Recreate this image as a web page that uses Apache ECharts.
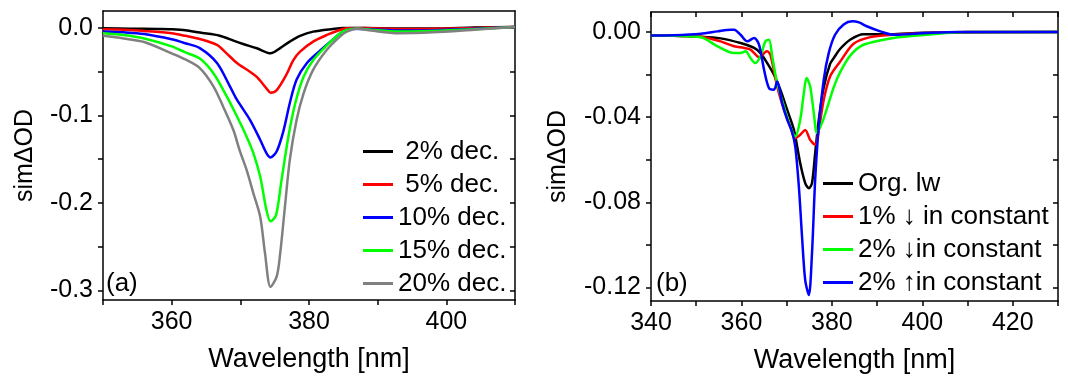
<!DOCTYPE html>
<html><head><meta charset="utf-8">
<script src="https://cdn.jsdelivr.net/npm/echarts@6/dist/echarts.min.js"></script>
<style>html,body{margin:0;padding:0;background:#fff}#c{width:1068px;height:380px}</style>
</head><body><div id="c"></div><script>
// ---------- Panel (a) data ----------
const aNames = ['2% dec.', '5% dec.', '10% dec.', '15% dec.', '20% dec.'];
const aColors = ['#000000', '#ff0000', '#0000ff', '#00ff00', '#808080'];
const aX2 = [350,354,358,360,362,364.1,367.0,369.0,370.4,372.4,374.4,375.8,377.2,378.7,380.6,383.5,385,388,393,398,404,410];
const aY2 = [-0.0003,-0.0008,-0.0012,-0.0015,-0.0025,-0.0053,-0.0088,-0.0145,-0.0183,-0.0232,-0.029,-0.023,-0.0156,-0.009,-0.0042,-0.0011,0,0,-0.0005,-0.0005,0.0005,0.0012];
const aX5 = [350,353,356,360,362,364.1,366.6,368.0,369.5,371.4,372.4,373.8,374.4,375.3,376.8,377.7,378.7,380.6,382.6,384.5,385.5,388,393,398,404,410];
const aY5 = [-0.0015,-0.002,-0.0034,-0.006,-0.009,-0.0126,-0.0194,-0.029,-0.040,-0.050,-0.056,-0.069,-0.074,-0.071,-0.052,-0.037,-0.027,-0.0156,-0.008,-0.0023,-0.0004,0,-0.0012,-0.001,0,0.0012];
const aX10 = [350,353,356,360,362,364.1,366.6,368.5,369.5,371.4,372.9,373.8,374.4,375.3,376.3,377.2,378.2,379.7,381.6,383.5,385,386.5,389,393,398,404,410];
const aY10 = [-0.004,-0.005,-0.007,-0.013,-0.0175,-0.023,-0.040,-0.067,-0.082,-0.105,-0.128,-0.143,-0.148,-0.141,-0.117,-0.086,-0.059,-0.040,-0.026,-0.013,-0.004,-0.0008,-0.0015,-0.003,-0.0025,-0.001,0.0012];
const aX15 = [350,353,356,360,362,364.1,366.1,368.0,369.5,370.9,371.9,372.9,373.8,374.4,375.2,376.0,377.0,378.0,379.2,380.6,382.6,384.5,385.5,387,389,393,398,404,410];
const aY15 = [-0.006,-0.008,-0.012,-0.021,-0.028,-0.035,-0.052,-0.078,-0.101,-0.124,-0.143,-0.170,-0.208,-0.221,-0.214,-0.174,-0.124,-0.086,-0.056,-0.037,-0.020,-0.0063,-0.0023,-0.0005,-0.002,-0.004,-0.0035,-0.0015,0.0012];
const aX20 = [350,353,356,360,362,364.1,366.1,367.5,369.0,369.9,370.9,371.9,372.9,373.6,374.4,375.3,375.8,376.5,377.2,378.2,379.2,380.6,382.6,384.5,385.5,387,389,393,398,404,410];
const aY20 = [-0.009,-0.012,-0.016,-0.029,-0.036,-0.046,-0.067,-0.090,-0.117,-0.140,-0.162,-0.189,-0.216,-0.258,-0.296,-0.284,-0.258,-0.204,-0.151,-0.105,-0.075,-0.048,-0.025,-0.0099,-0.0042,-0.001,-0.003,-0.006,-0.005,-0.002,0.0012];
const aXTicks = [350,360,370,380,390,400,410];
const aXLabels = [360,380,400];
const aYTicks = [0,-0.05,-0.1,-0.15,-0.2,-0.25,-0.3];
const aYLabels = [0,-0.1,-0.2,-0.3];

// ---------- Panel (b) data ----------
const bNames = ['Org. lw', '1% \u2193 in constant', '2% \u2193in constant', '2% \u2191in constant'];
const bColors = ['#000000', '#ff0000', '#00ff00', '#0000ff'];
const bX0 = [340,345,351.0,355.4,359.8,362.8,364.2,365.7,367.2,368.6,370.1,371.6,373.0,374.1,374.9,375.6,376.3,377.1,378.2,379.6,380.5,381.8,384.1,387,393,400,430];
const bY0 = [-0.0017,-0.0018,-0.0022,-0.0030,-0.0052,-0.0075,-0.0099,-0.0146,-0.0201,-0.0271,-0.0365,-0.046,-0.0617,-0.071,-0.0734,-0.071,-0.057,-0.0413,-0.026,-0.015,-0.012,-0.008,-0.0035,-0.001,-0.001,-0.0003,0];
const bX1 = [340,345,351.0,355.4,358.4,360.6,362.0,363.5,364.2,365.0,365.7,366.4,367.9,369.4,370.8,371.9,373.0,374.1,375.2,376.3,377.1,378.2,379.6,381.8,384.8,388.5,393.6,401,410,430];
const bY1 = [-0.0017,-0.0018,-0.0022,-0.0044,-0.0067,-0.0075,-0.0083,-0.0114,-0.0122,-0.0099,-0.0091,-0.0107,-0.0256,-0.0365,-0.0444,-0.0499,-0.0483,-0.046,-0.0507,-0.053,-0.046,-0.0318,-0.0209,-0.014,-0.0055,-0.0024,-0.0013,-0.0005,0,0];
const bX2 = [340,345,351.0,354.7,358.4,359.8,360.9,362.0,363.1,364.2,365.3,366.1,366.8,367.9,369.4,370.8,371.9,373.0,373.8,374.4,375.2,376.0,376.7,377.8,378.9,380.4,381.8,384.1,387.0,393.6,400.9,410,430];
const bY2 = [-0.0017,-0.0018,-0.0025,-0.0067,-0.0099,-0.0099,-0.0091,-0.0122,-0.0146,-0.0114,-0.0044,-0.0036,-0.0114,-0.024,-0.035,-0.0444,-0.0491,-0.0412,-0.0287,-0.0216,-0.0256,-0.0381,-0.0475,-0.0428,-0.036,-0.026,-0.019,-0.011,-0.006,-0.0028,-0.0013,0,0];
const bX3 = [340,345,351.0,354.7,357.6,358.4,359.8,361.3,362.8,363.9,365.0,366.1,367.2,367.9,369.0,370.1,371.2,371.9,372.7,373.4,374.1,374.9,375.6,376.3,377.1,378.2,379.3,380.7,382.6,384.5,386,387.7,390.7,393.6,400.9,408,430];
const bY3 = [-0.0017,-0.0015,-0.0008,0.0003,0.0011,0.0011,-0.0013,-0.0044,-0.0028,-0.006,-0.0177,-0.0264,-0.0271,-0.0232,-0.0334,-0.041,-0.047,-0.0538,-0.0727,-0.0962,-0.1166,-0.1236,-0.104,-0.0695,-0.0444,-0.0224,-0.0099,-0.0013,0.0035,0.005,0.0045,0.0027,0.0003,-0.0013,-0.0005,0,0];
const bXTicks = [340,350,360,370,380,390,400,410,420,430];
const bXLabels = [340,360,380,400,420];
const bYTicks = [0,-0.02,-0.04,-0.06,-0.08,-0.10,-0.12];
const bYLabels = [0,-0.04,-0.08,-0.12];

const FONT = "'Liberation Sans', Arial, Helvetica, sans-serif";
const pairs = (xs, ys) => xs.map((x, i) => [x, ys[i]]);
const axLine = {show: true, onZero: false, lineStyle: {color: '#000', width: 1.5}};
const tickStyle = {color: '#000', width: 1.5};
const lblStyle = {fontSize: 25, color: '#000', fontFamily: FONT};
const yNameStyle = {fontSize: 25, color: '#000', fontFamily: FONT};
const xNameStyle = {fontSize: 27, color: '#000', fontFamily: FONT};

function mainX(grid, min, max, ticks, labels) {
  return {type: 'value', gridIndex: grid, min, max, position: 'bottom',
    name: 'Wavelength [nm]', nameLocation: 'middle', nameGap: 46, nameTextStyle: xNameStyle,
    axisLine: axLine,
    axisTick: {show: true, inside: false, length: 5, customValues: ticks, lineStyle: tickStyle},
    axisLabel: Object.assign({show: true, margin: 10, customValues: labels, formatter: v => String(v)}, lblStyle),
    splitLine: {show: false}};
}
function mirrorX(grid, min, max, ticks) {
  return {type: 'value', gridIndex: grid, min, max, position: 'top',
    axisLine: axLine,
    axisTick: ticks ? {show: true, inside: true, length: 5, customValues: ticks, lineStyle: tickStyle} : {show: false},
    axisLabel: {show: false}, splitLine: {show: false}};
}
function mainY(grid, min, max, ticks, labels, dec, gap) {
  return {type: 'value', gridIndex: grid, min, max, position: 'left',
    name: 'sim\u0394OD', nameLocation: 'middle', nameGap: gap, nameTextStyle: yNameStyle,
    axisLine: axLine,
    axisTick: {show: true, inside: false, length: 5, customValues: ticks, lineStyle: tickStyle},
    axisLabel: Object.assign({show: true, margin: 10, customValues: labels, formatter: v => (Math.abs(v) < 1e-9 ? 0 : v).toFixed(dec)}, lblStyle),
    splitLine: {show: false}};
}
function mirrorY(grid, min, max, ticks) {
  return {type: 'value', gridIndex: grid, min, max, position: 'right',
    axisLine: axLine,
    axisTick: {show: true, inside: true, length: 5, customValues: ticks, lineStyle: tickStyle},
    axisLabel: {show: false}, splitLine: {show: false}};
}

const aData = [pairs(aX2, aY2), pairs(aX5, aY5), pairs(aX10, aY10), pairs(aX15, aY15), pairs(aX20, aY20)];
const bData = [pairs(bX0, bY0), pairs(bX1, bY1), pairs(bX2, bY2), pairs(bX3, bY3)];

const series = [];
aNames.forEach((n, i) => series.push({name: n, type: 'line', xAxisIndex: 0, yAxisIndex: 0, data: aData[i],
  showSymbol: false, symbol: 'none', smooth: 0.3, color: aColors[i], lineStyle: {width: 2.5, color: aColors[i]}, animation: false}));
bNames.forEach((n, i) => series.push({name: n, type: 'line', xAxisIndex: 2, yAxisIndex: 2, data: bData[i],
  showSymbol: false, symbol: 'none', smooth: 0.3, color: bColors[i], lineStyle: {width: 2.5, color: bColors[i]}, animation: false}));

const legendBase = {orient: 'vertical', itemWidth: 30, itemHeight: 3, itemGap: 0, padding: 0, icon: 'rect',
  selectedMode: false, textStyle: {fontSize: 26, lineHeight: 33, color: '#000', fontFamily: FONT}};

const option = {
  backgroundColor: '#fff',
  animation: false,
  grid: [
    {left: 103, right: 553, top: 11, bottom: 80},
    {left: 651, right: 10, top: 12, bottom: 79}
  ],
  xAxis: [
    mainX(0, 350, 410, aXTicks, aXLabels),
    mirrorX(0, 350, 410, null),
    mainX(1, 340, 430, bXTicks, bXLabels),
    mirrorX(1, 340, 430, bXTicks)
  ],
  yAxis: [
    mainY(0, -0.311, 0.0194, aYTicks, aYLabels, 1, 65),
    mirrorY(0, -0.311, 0.0194, aYTicks),
    mainY(1, -0.1264, 0.0094, bYTicks, bYLabels, 2, 80),
    mirrorY(1, -0.1264, 0.0094, bYTicks)
  ],
  legend: [
    Object.assign({data: aNames, left: 363, top: 135, formatter: n => (n.length < 8 ? ' ' + n : n)}, legendBase),
    Object.assign({data: bNames, left: 823, top: 167}, legendBase)
  ],
  graphic: [
    {type: 'text', left: 106, top: 271, style: {text: '(a)', font: '26px ' + FONT, fill: '#000'}},
    {type: 'text', left: 656, top: 271, style: {text: '(b)', font: '26px ' + FONT, fill: '#000'}}
  ],
  series
};
const chart = echarts.init(document.getElementById('c'), null, {renderer: 'canvas'});
chart.setOption(option);
</script></body></html>
